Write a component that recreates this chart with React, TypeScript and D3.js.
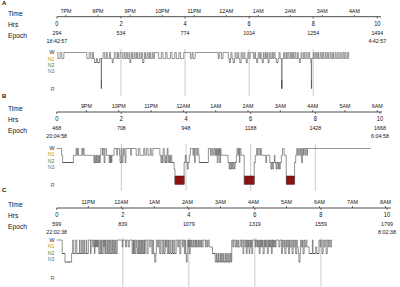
import React from "react";
import * as d3 from "d3";

const FONT = "'Liberation Sans', Arial, Helvetica, sans-serif";

const hrsTicks = [0, 2, 4, 6, 8, 10];
const stageNames = ["W", "N1", "N2", "N3", "R"];
const stageColors = ["#1a1a1a", "#b3a22c", "#3d8c3d", "#3a8aa3", "#a03a3a"];

const startA = "18:42:57";
const endA = "4:42:57";
const epochsA = [294, 534, 774, 1014, 1254, 1494];
const clockTicksA = ["7PM", "8PM", "9PM", "10PM", "11PM", "12AM", "1AM", "2AM", "3AM", "4AM"];
const hypA: [string, number][] = [
  ["W", 2], ["N1", 4], ["W", 3], ["N1", 4], ["W", 43],
  ["N1", 4.5], ["W", 3], ["N1", 3], ["W", 2], ["N1", 2], ["N2", 3.5], ["N1", 2], ["N2", 4], ["N1", 3], ["R", 0.5], ["N1", 3], ["W", 3], ["N1", 3], ["W", 2], ["N1", 4], ["W", 2], ["N1", 3], ["N2", 2], ["N1", 2], ["W", 3], ["N1", 3], ["W", 2], ["N1", 3], ["W", 4],
  ["N1", 3], ["W", 2], ["N1", 2.5], ["W", 2], ["N1", 3], ["W", 1.5], ["N2", 2], ["N1", 1], ["W", 2], ["N1", 3], ["W", 2], ["N1", 2.5], ["W", 2], ["N1", 3], ["W", 1.5], ["N1", 3], ["W", 2], ["N2", 2.5], ["N1", 1], ["W", 2], ["N1", 3], ["W", 2], ["N1", 2.5], ["W", 2], ["N1", 3], ["W", 2], ["N1", 2], ["W", 8],
  ["N1", 5], ["W", 3], ["N1", 5], ["W", 3], ["N1", 6], ["W", 3], ["N1", 5], ["W", 3], ["N1", 5], ["W", 3], ["N1", 6], ["W", 12.5],
  ["N1", 3], ["W", 2], ["N1", 4], ["W", 43],
  ["N1", 2], ["W", 4], ["N1", 3], ["W", 10],
  ["N1", 2], ["N2", 2], ["N1", 1], ["W", 2], ["N1", 2], ["N2", 2.5], ["N1", 1], ["W", 2], ["N1", 3], ["W", 2], ["N1", 2], ["N2", 2.5], ["W", 2], ["N1", 3], ["W", 2], ["N1", 2.5], ["N2", 2], ["N1", 1], ["W", 2], ["N1", 2.5], ["W", 6],
  ["N1", 2.5], ["W", 1.5], ["N1", 2], ["N2", 2], ["N1", 1], ["W", 2], ["N1", 2], ["W", 1.5], ["N1", 2], ["N2", 2], ["W", 1.5], ["N1", 2.5], ["W", 1.5], ["N1", 2], ["W", 1.5], ["N2", 2], ["N1", 1], ["W", 2], ["N1", 2.5], ["W", 1.5], ["N1", 2], ["W", 2], ["N1", 2.5], ["N2", 3], ["N1", 2], ["W", 2], ["N1", 3], ["R", 0.5], ["N1", 3],
  ["W", 2], ["N1", 2.5], ["W", 1.5], ["N1", 2], ["W", 2], ["N1", 3], ["W", 1.5], ["N1", 2], ["W", 2], ["N1", 2.5], ["W", 2], ["N1", 3], ["W", 1.5], ["N1", 2], ["N2", 2], ["N1", 1], ["W", 2], ["N1", 3], ["W", 2], ["N1", 2.5], ["W", 2], ["N1", 3], ["W", 2], ["N1", 2], ["N2", 1], ["R", 0.5], ["N1", 3],
  ["W", 2], ["N1", 2.5], ["W", 2], ["N1", 2], ["W", 1.5], ["N1", 3], ["W", 2], ["N1", 2.5], ["W", 2], ["N1", 3], ["W", 1.5], ["N1", 2.5], ["W", 2], ["N1", 3], ["W", 2], ["N1", 2.5], ["W", 2], ["N1", 3], ["W", 2], ["N1", 3], ["W", 2], ["N1", 2.5], ["W", 2], ["N1", 3], ["W", 2], ["N1", 2], ["W", 2], ["N1", 3], ["W", 2], ["N1", 0.5],
];

const startB = "20:04:58";
const endB = "6:04:58";
const epochsB = [468, 708, 948, 1188, 1428, 1668];
const clockTicksB = ["9PM", "10PM", "11PM", "12AM", "1AM", "2AM", "3AM", "4AM", "5AM", "6AM"];
const hypB: [string, number][] = [
  ["W", 9], ["N1", 2], ["N2", 20], ["N1", 5], ["W", 1.5], ["N1", 1], ["W", 2], ["N1", 6], ["W", 2], ["N1", 0.5], ["W", 2], ["N1", 18],
  ["N2", 1.5], ["N1", 1], ["N2", 1.5], ["N1", 1], ["N2", 2], ["N1", 1], ["N2", 1.5], ["N1", 1], ["N2", 1.5], ["N1", 1],
  ["W", 3], ["N1", 1], ["W", 2], ["N2", 1.5], ["W", 3],
  ["N1", 5], ["N2", 1], ["N1", 1], ["N2", 1], ["N1", 1], ["N2", 1], ["N1", 4],
  ["W", 5], ["N1", 1], ["W", 4],
  ["N1", 1], ["N2", 2], ["W", 2], ["N2", 1.5], ["N1", 1], ["W", 2], ["N1", 1], ["N2", 1.5],
  ["W", 9], ["N1", 1], ["W", 9],
  ["N1", 4], ["W", 3], ["N1", 7], ["W", 2], ["N1", 3], ["W", 3], ["N1", 4], ["W", 2], ["N1", 3],
  ["W", 13],
  ["N1", 2], ["N2", 1.5], ["N1", 1], ["N2", 1.5], ["W", 2], ["N1", 1], ["N2", 2], ["N1", 1], ["N2", 1.5], ["W", 1.5], ["N1", 1], ["N2", 2], ["N1", 1], ["N2", 1.5], ["N1", 1.5], ["N2", 4.5],
  ["N3", 1.5], ["R", 17],
  ["N2", 2], ["N1", 2], ["N2", 2], ["N3", 1.5], ["N2", 2], ["N1", 2], ["W", 5], ["N1", 1], ["W", 2], ["N2", 1], ["W", 3], ["N1", 1], ["W", 2.5],
  ["N1", 1], ["N2", 17],
  ["W", 4], ["N1", 2], ["W", 2], ["N1", 2], ["W", 2],
  ["N1", 1.5], ["W", 1], ["N1", 1], ["W", 1], ["N2", 1.5], ["W", 1], ["N1", 1], ["W", 1], ["N2", 1.5], ["W", 1], ["N1", 13],
  ["N2", 2], ["N3", 1.5], ["N2", 1.5], ["N3", 1.5], ["N2", 2], ["N3", 1], ["N2", 2], ["N3", 1.5], ["N2", 2.5],
  ["N1", 1], ["W", 2], ["N1", 1], ["W", 1.5], ["N2", 1], ["W", 2], ["N1", 6],
  ["R", 18.5],
  ["N2", 2], ["N1", 2.5], ["W", 2], ["N1", 1], ["W", 3], ["N1", 1], ["W", 2],
  ["N1", 8], ["N2", 1.5], ["N1", 6],
  ["N2", 2], ["N3", 1.5], ["N2", 2], ["N3", 1], ["N2", 2], ["N1", 1], ["N2", 2], ["N3", 1.5], ["N2", 2], ["N3", 1], ["N2", 2], ["N3", 1.5], ["N2", 2],
  ["N1", 2], ["W", 3], ["N1", 4],
  ["R", 15.5],
  ["N2", 2], ["N1", 2], ["W", 1.5], ["N1", 2],
  ["W", 2], ["N1", 1.5], ["W", 2], ["N2", 1.5], ["W", 2], ["N1", 1], ["W", 2], ["N1", 1.5], ["W", 2],
  ["N1", 1], ["W", 117],
];

const startC = "22:02:38";
const endC = "8:02:38";
const epochsC = [599, 839, 1079, 1319, 1559, 1799];
const clockTicksC = ["11PM", "12AM", "1AM", "2AM", "3AM", "4AM", "5AM", "6AM", "7AM", "8AM"];
const hypC: [string, number][] = [
  ["W", 10], ["N2", 5], ["N3", 12],
  ["N2", 2], ["W", 2], ["N2", 3.5], ["W", 2], ["N2", 5], ["W", 1], ["N2", 3], ["W", 1], ["N2", 2.5], ["W", 1.5], ["N2", 3], ["W", 1], ["N2", 3],
  ["W", 4], ["N2", 1], ["W", 3], ["N1", 1], ["W", 2], ["N2", 1], ["W", 1], ["N1", 1], ["W", 1], ["N1", 1], ["W", 1], ["N1", 1], ["W", 1],
  ["N2", 2], ["W", 1], ["N2", 2], ["W", 1], ["N2", 2], ["W", 1], ["N1", 1], ["W", 1], ["N2", 1],
  ["W", 1.5], ["N2", 2], ["W", 1], ["N2", 1.5], ["W", 1.5], ["N2", 2], ["W", 1], ["N2", 2], ["W", 1], ["N2", 1.5], ["W", 1.5], ["N2", 2], ["W", 1], ["N2", 2],
  ["W", 9], ["N1", 1.5], ["W", 4.5], ["N1", 2], ["W", 3], ["N1", 2], ["W", 5],
  ["N2", 1.5], ["W", 1], ["N2", 1], ["W", 1], ["N2", 2], ["W", 1.5], ["N1", 1], ["N2", 1.5], ["W", 1], ["N2", 2], ["W", 1], ["N2", 1.5], ["W", 1], ["N2", 2], ["W", 1], ["N2", 1.5], ["W", 1], ["N2", 1.5],
  ["W", 3], ["N2", 2], ["W", 3], ["N1", 2], ["W", 2], ["N2", 1.5], ["W", 1.5],
  ["N2", 2], ["N3", 2], ["N2", 1], ["W", 2], ["N1", 2], ["W", 2], ["N2", 2], ["W", 2.5],
  ["N2", 2], ["W", 1.5], ["N2", 2], ["W", 1], ["N1", 1.5], ["W", 1.5], ["N2", 2], ["W", 1], ["N2", 2], ["W", 1.5], ["N2", 2.5], ["W", 1], ["N2", 2], ["W", 1.5], ["N2", 2.5],
  ["W", 3], ["N1", 1.5], ["W", 2], ["N2", 2], ["W", 3], ["N1", 1.5], ["W", 2],
  ["N2", 1.5], ["W", 1], ["N2", 1], ["N3", 1.5], ["N2", 1], ["W", 1], ["N1", 1], ["W", 1], ["N2", 1.5], ["W", 1], ["N1", 1], ["W", 1.5],
  ["N1", 2], ["W", 1], ["N1", 2], ["W", 1], ["N1", 1.5], ["W", 1], ["N1", 2], ["W", 1], ["N1", 2], ["W", 1.5], ["N1", 2], ["W", 1], ["N1", 2], ["W", 4],
  ["N1", 1.5], ["W", 2], ["N1", 1.5], ["W", 2], ["N1", 6], ["N2", 5],
  ["N3", 2], ["N2", 1], ["N3", 2], ["N2", 1], ["N3", 2.5], ["N2", 1], ["N3", 2], ["N2", 1], ["N3", 2], ["N2", 1], ["N3", 2.5], ["N2", 1], ["N3", 2], ["N2", 1], ["N3", 2.5], ["N2", 1], ["N3", 2], ["N2", 1.5], ["N3", 1],
  ["W", 2], ["N1", 1.5], ["W", 2.5],
  ["N1", 2], ["W", 1], ["N1", 2], ["W", 1], ["N1", 3],
  ["W", 2], ["N1", 1.5], ["W", 2], ["N2", 1.5], ["W", 2],
  ["N1", 1.5], ["W", 1], ["N2", 1.5], ["W", 1], ["N1", 1.5], ["W", 1], ["N2", 1.5], ["W", 1], ["N1", 1.5], ["W", 1], ["N2", 1.5], ["W", 4.5], ["N1", 1], ["W", 2],
  ["N1", 1], ["W", 1], ["N1", 1.5], ["W", 1], ["N2", 1.5], ["W", 1], ["N1", 1], ["W", 1], ["N1", 1.5], ["W", 1], ["N2", 2], ["W", 1], ["N1", 1], ["W", 1], ["N1", 1.5], ["W", 1], ["N2", 2], ["W", 1], ["N1", 1], ["W", 1], ["N1", 1.5], ["W", 1], ["N2", 1.5], ["W", 1], ["N1", 1], ["W", 1], ["N1", 1.5], ["W", 1], ["N1", 1.5], ["W", 5],
  ["N1", 2], ["W", 3], ["N2", 1.5], ["W", 1.5],
  ["N1", 2], ["W", 1], ["N2", 2], ["W", 1], ["N1", 2], ["W", 1.5], ["N2", 2], ["W", 1], ["N1", 2], ["W", 1.5], ["N2", 2], ["W", 1], ["N1", 2],
  ["W", 1.5], ["N2", 2], ["W", 1], ["N1", 2], ["N2", 1], ["N3", 2], ["N2", 1], ["W", 1.5], ["N1", 2], ["W", 1], ["N2", 2], ["W", 1.5], ["N1", 2], ["W", 1.5], ["N1", 4],
  ["N2", 6], ["W", 1], ["N2", 5], ["N1", 2], ["N2", 4],
  ["W", 2], ["N1", 1.5], ["W", 2], ["N2", 2], ["W", 2], ["N1", 1.5], ["W", 2], ["N2", 2], ["W", 2], ["N1", 1.5],
  ["W", 2], ["N1", 2], ["W", 2],
];

type Lv = Record<string, number>;
interface Layout {
  axisY: number; x0: number; x10: number; axisEnd: number;
  lv: Lv; rTop: number; lab: Lv; gridTop: number; gridBot: number; letterY: number;
}

const layoutA: Layout = {
  axisY: 16.7, x0: 56.9, x10: 377.3, axisEnd: 381,
  lv: { W: 52.5, N1: 58.5, N2: 62.5, N3: 67, R: 88.5 }, rTop: 80.5,
  lab: { W: 52, N1: 58.4, N2: 64.8, N3: 71.2, R: 88.5 }, gridTop: 49, gridBot: 96, letterY: 4.5,
};
const layoutB: Layout = {
  axisY: 112, x0: 56.7, x10: 380, axisEnd: 382,
  lv: { W: 148.5, N1: 155.3, N2: 162.5, N3: 169, R: 184.3 }, rTop: 176,
  lab: { W: 147.8, N1: 154.2, N2: 160.6, N3: 167, R: 184.5 }, gridTop: 144, gridBot: 191, letterY: 98,
};
const layoutC: Layout = {
  axisY: 208, x0: 56.7, x10: 387, axisEnd: 391,
  lv: { W: 240, N1: 247, N2: 253.5, N3: 262, R: 278 }, rTop: 270,
  lab: { W: 239.6, N1: 246, N2: 252.4, N3: 258.8, R: 278 }, gridTop: 238, gridBot: 287, letterY: 191.5,
};

function T(p: { x: number; y: number; s: string | number; size: number; anchor?: string; fill?: string; weight?: string; sx?: number }) {
  const sx = p.sx ?? 0.86;
  return (
    <text
      transform={`translate(${p.x},${p.y}) scale(${sx},1)`}
      fontSize={p.size}
      fontFamily={FONT}
      textAnchor={p.anchor ?? "start"}
      fill={p.fill ?? "#111"}
      fontWeight={p.weight ?? "normal"}
    >
      {p.s}
    </text>
  );
}

function parseClock(s: string) {
  const [h, m, sec] = s.split(":").map(Number);
  return h + m / 60 + sec / 3600;
}
function labelHour(l: string) {
  const n = parseInt(l, 10);
  const pm = l.endsWith("PM");
  return (n % 12) + (pm ? 12 : 0);
}

function Panel(props: { letter: string; L: Layout; start: string; end: string; epochs: number[]; clocks: string[]; hyp: [string, number][] }) {
  const { letter, L, start, end, epochs, clocks, hyp } = props;
  const x = d3.scaleLinear().domain([0, 600]).range([L.x0, L.x10]);
  const st = parseClock(start);
  const ay = L.axisY;

  let t = 0;
  const segs = hyp.map(([s, d]) => {
    const a = t;
    t += d;
    return { s, a, b: t };
  });
  const vPath = d3.path();
  for (let i = 1; i < segs.length; i++) {
    const xx = x(segs[i].a);
    vPath.moveTo(xx, L.lv[segs[i - 1].s]);
    vPath.lineTo(xx, L.lv[segs[i].s]);
  }
  const lightPath = d3.path();
  const darkPath = d3.path();
  segs.forEach((g) => {
    if (g.s === "R") return;
    const p = g.s === "W" || g.s === "N1" ? lightPath : darkPath;
    p.moveTo(x(g.a), L.lv[g.s]);
    p.lineTo(x(g.b), L.lv[g.s]);
  });
  const rSegs = segs.filter((g) => g.s === "R");

  return (
    <g>
      <T x={2} y={L.letterY} s={letter} size={6} weight="bold" sx={1} />
      <T x={8} y={ay - 1.2} s="Time" size={7.8} />
      <T x={8} y={ay + 10.3} s="Hrs" size={7.8} />
      <T x={8} y={ay + 20.8} s="Epoch" size={7.8} />
      <line x1={L.x0} x2={L.axisEnd} y1={ay} y2={ay} stroke="#222" strokeWidth={0.8} />
      {clocks.map((c) => {
        const off = ((labelHour(c) - st) + 24) % 24;
        const xx = x(off * 60);
        return (
          <g key={c}>
            <line x1={xx} x2={xx} y1={ay - 1.8} y2={ay} stroke="#222" strokeWidth={0.7} />
            <T x={xx} y={ay - 4} s={c} size={6.2} anchor="middle" />
          </g>
        );
      })}
      {hrsTicks.map((h, i) => (
        <g key={h}>
          <line x1={x(h * 60)} x2={x(h * 60)} y1={ay} y2={ay + 1.8} stroke="#222" strokeWidth={0.7} />
          <T x={x(h * 60)} y={ay + 9} s={h} size={6.6} anchor="middle" />
          <T x={x(h * 60)} y={ay + 18} s={epochs[i]} size={6.2} anchor="middle" />
        </g>
      ))}
      <T x={x(0)} y={ay + 26} s={start} size={6.2} anchor="middle" />
      <T x={x(600)} y={ay + 26} s={end} size={6.2} anchor="middle" />
      {stageNames.map((s, i) => (
        <T key={s} x={54.5} y={L.lab[s] + 2.2} s={s} size={6.2} anchor="end" fill={stageColors[i]} />
      ))}
      {[2, 4, 6, 8].map((h) => (
        <line key={h} x1={x(h * 60)} x2={x(h * 60)} y1={L.gridTop} y2={L.gridBot} stroke="#c4c4c4" strokeWidth={0.9} />
      ))}
      {rSegs.map((g, i) => (
        <rect key={i} x={x(g.a)} y={L.rTop} width={x(g.b) - x(g.a)} height={L.lv.R - L.rTop} fill="#8e1212" stroke="#4a0606" strokeWidth={0.5} />
      ))}
      <path d={lightPath.toString()} stroke="#7a7a7a" strokeWidth={0.8} fill="none" />
      <path d={darkPath.toString()} stroke="#2a2a2a" strokeWidth={0.8} fill="none" />
      <path d={vPath.toString()} stroke="#5a5a5a" strokeWidth={0.65} fill="none" />
    </g>
  );
}

export default function App() {
  return (
    <svg width={400} height={287} style={{ display: "block", position: "absolute", left: 0, top: 0, background: "#fff" }}>
      <rect width={400} height={287} fill="#fff" />
      <Panel letter="A" L={layoutA} start={startA} end={endA} epochs={epochsA} clocks={clockTicksA} hyp={hypA} />
      <Panel letter="B" L={layoutB} start={startB} end={endB} epochs={epochsB} clocks={clockTicksB} hyp={hypB} />
      <Panel letter="C" L={layoutC} start={startC} end={endC} epochs={epochsC} clocks={clockTicksC} hyp={hypC} />
    </svg>
  );
}
